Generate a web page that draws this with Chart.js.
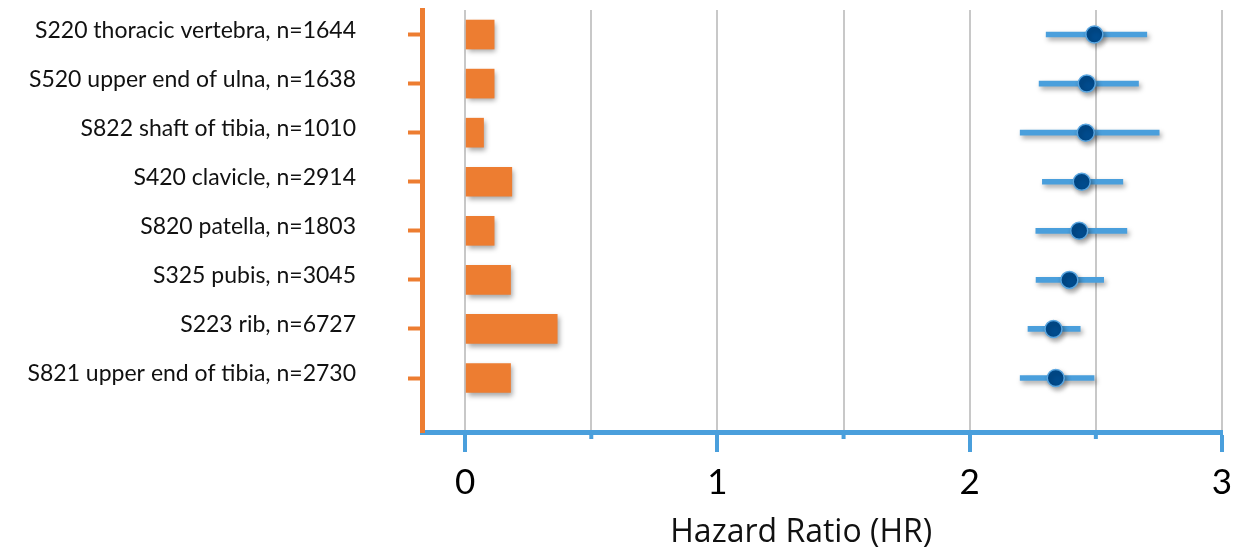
<!DOCTYPE html>
<html>
<head>
<meta charset="utf-8">
<script src="https://cdn.jsdelivr.net/npm/chart.js@4"></script>
<style>
  html, body { margin: 0; padding: 0; background: #ffffff; }
  #wrap { width: 1248px; height: 549px; }
</style>
</head>
<body>
<div id="wrap"><canvas id="chart" width="1248" height="549"></canvas></div>
<script>
// Fracture sites with case counts
const categories = [
  'S220 thoracic vertebra, n=1644',
  'S520 upper end of ulna, n=1638',
  'S822 shaft of tibia, n=1010',
  'S420 clavicle, n=2914',
  'S820 patella, n=1803',
  'S325 pubis, n=3045',
  'S223 rib, n=6727',
  'S821 upper end of tibia, n=2730'
];
// Row positions on the vertical axis (1 = top row)
const rows = [1, 2, 3, 4, 5, 6, 7, 8];
// Orange bars
const barValues = [0.115, 0.115, 0.073, 0.185, 0.115, 0.18, 0.365, 0.18];
// Hazard ratios with 95% confidence limits
const hrValues = [2.494, 2.464, 2.46, 2.444, 2.434, 2.395, 2.332, 2.341];
const ciLower  = [2.303, 2.275, 2.2, 2.288, 2.262, 2.263, 2.231, 2.2];
const ciUpper  = [2.702, 2.669, 2.751, 2.607, 2.623, 2.531, 2.438, 2.493];
// Horizontal axis ticks
const xTicks = [0, 0.5, 1, 1.5, 2, 2.5, 3];

const ORANGE = '#ed7d31';
const BLUE = '#4a9fdc';
const DARK_BLUE = '#004b8d';
const FONT = 'Lato, "Open Sans", sans-serif';
const TITLE_FONT = '"Open Sans", Lato, sans-serif';

// Soft drop shadow under every mark
const dropShadow = {
  id: 'dropShadow',
  beforeDatasetsDraw(chart) {
    const c = chart.ctx;
    c.save();
    c.shadowColor = 'rgba(0,0,0,0.35)';
    c.shadowBlur = 5;
    c.shadowOffsetX = 2;
    c.shadowOffsetY = 3;
  },
  afterDatasetsDraw(chart) {
    chart.ctx.restore();
  }
};

// Short minor tick marks at the half steps of the HR axis
const minorTicks = {
  id: 'minorTicks',
  afterDraw(chart) {
    const c = chart.ctx;
    const xs = chart.scales.x;
    const y0 = chart.chartArea.bottom;
    c.save();
    c.strokeStyle = BLUE;
    c.lineWidth = 4;
    xTicks.filter(v => !Number.isInteger(v)).forEach(v => {
      const px = xs.getPixelForValue(v);
      c.beginPath();
      c.moveTo(px, y0);
      c.lineTo(px, y0 + 7);
      c.stroke();
    });
    c.restore();
  }
};

new Chart(document.getElementById('chart'), {
  type: 'bar',
  data: {
    datasets: [
      {
        type: 'line',
        label: 'HR',
        data: rows.map((r, i) => ({ x: hrValues[i], y: r })),
        showLine: false,
        pointRadius: 8.5,
        pointBackgroundColor: DARK_BLUE,
        pointBorderColor: '#5aa6e0',
        pointBorderWidth: 1.5,
        order: 0
      },
      {
        label: '95% CI',
        data: rows.map((r, i) => ({ x: [ciLower[i], ciUpper[i]], y: r })),
        backgroundColor: BLUE,
        barThickness: 5,
        grouped: false,
        borderSkipped: false,
        order: 1
      },
      {
        label: 'Share',
        data: rows.map((r, i) => ({ x: barValues[i], y: r })),
        backgroundColor: ORANGE,
        barThickness: 29,
        grouped: false,
        order: 2
      }
    ]
  },
  options: {
    indexAxis: 'y',
    responsive: false,
    animation: false,
    layout: { padding: { top: 4, right: 26, left: 0, bottom: 0 } },
    plugins: { legend: { display: false }, tooltip: { enabled: false } },
    scales: {
      x: {
        type: 'linear',
        offset: false,
        min: -0.171,
        max: 3,
        afterBuildTicks: s => { s.ticks = xTicks.map(v => ({ value: v })); },
        afterFit: s => { s.height = 117; s.paddingLeft = 0; s.paddingRight = 0; },
        grid: {
          offset: false,
          color: '#c8c8c8',
          lineWidth: 2,
          drawTicks: true,
          tickLength: 20,
          tickWidth: 4,
          tickColor: ctx => (ctx.tick && Number.isInteger(ctx.tick.value)) ? BLUE : 'rgba(0,0,0,0)'
        },
        border: { color: BLUE, width: 5 },
        ticks: {
          autoSkip: false,
          maxRotation: 0,
          padding: 10,
          color: '#000',
          font: { family: FONT, size: 35 },
          callback: v => Number.isInteger(v) ? String(v) : ''
        },
        title: {
          display: true,
          text: 'Hazard Ratio (HR)\u00a0\u00a0\u00a0\u00a0\u00a0',
          color: '#111',
          font: { family: TITLE_FONT, size: 32, lineHeight: 1 },
          padding: { top: 0, bottom: 0 }
        }
      },
      y: {
        type: 'linear',
        offset: false,
        reverse: true,
        min: 0.5,
        max: 9.1,
        afterBuildTicks: s => { s.ticks = rows.map(v => ({ value: v })); },
        afterFit: s => { s.width = 422; s.paddingTop = 0; s.paddingBottom = 0; },
        grid: {
          offset: false,
          drawOnChartArea: false,
          drawTicks: true,
          tickLength: 14,
          tickWidth: 4,
          tickColor: ORANGE
        },
        border: { color: ORANGE, width: 5 },
        ticks: {
          autoSkip: false,
          padding: 52,
          labelOffset: -4,
          color: '#111',
          font: { family: FONT, size: 23 },
          callback: v => categories[v - 1]
        }
      }
    }
  },
  plugins: [dropShadow, minorTicks]
});
</script>
</body>
</html>
